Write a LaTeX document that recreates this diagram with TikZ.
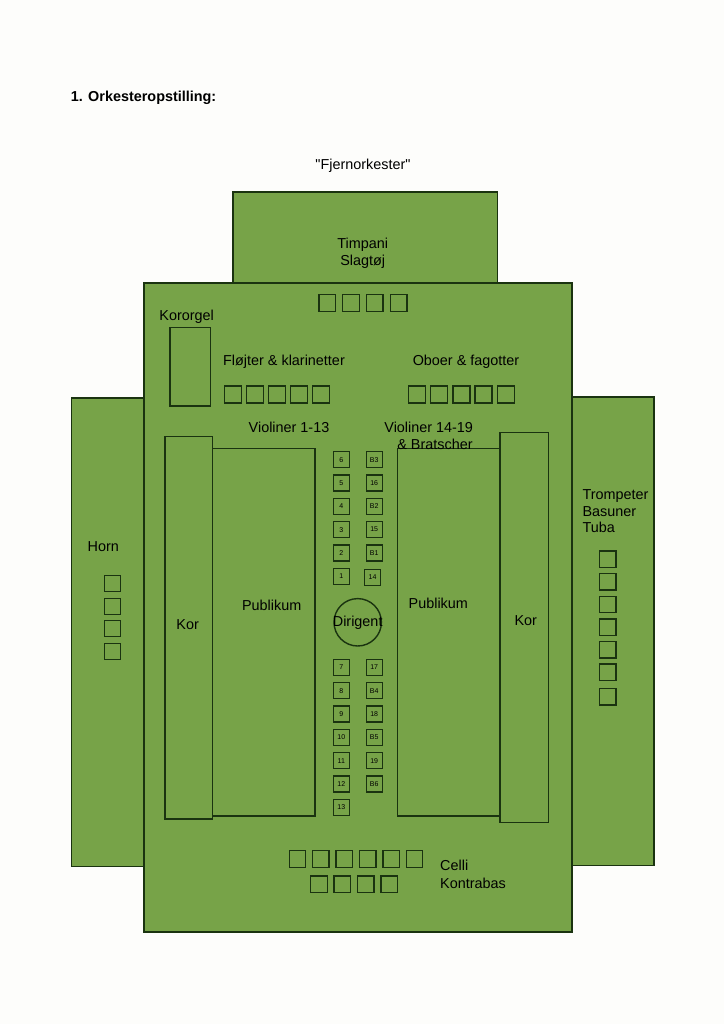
\documentclass[tikz,border=0pt]{standalone}
\usepackage{fontspec}
\setmainfont{Liberation Sans}[Ligatures=TeXOff]
\definecolor{stage}{HTML}{77A348}
\definecolor{edge}{HTML}{1A3310}
\definecolor{paper}{HTML}{FDFDFB}
\begin{document}
\begin{tikzpicture}[x=1pt,y=-1pt,
  zone/.style={fill=stage,draw=edge,line width=1.5pt},
  part/.style={draw=edge,line width=1.5pt},
  seat/.style={draw=edge,line width=1.4pt,minimum size=16.5pt,inner sep=0pt},
  wseat/.style={seat,minimum size=17pt},
  cseat/.style={seat,minimum size=16pt,font=\fontsize{7}{8}\selectfont},
  lbl/.style={inner sep=0pt,anchor=base,font=\fontsize{14.4}{17}\selectfont,text=black},
  lblw/.style={lbl,anchor=base west}]
\useasboundingbox (0,0) rectangle (724,1024);
\fill[paper] (0,0) rectangle (724,1024);
% zones
\draw[zone] (233,192) rectangle (497.5,283);
\draw[zone] (71.5,398) rectangle (144,866.5);
\draw[zone] (572,397) rectangle (654,865.5);
\draw[zone] (144,283) rectangle (572,932);
% inner areas
\draw[part] (170,327.7) rectangle (210.3,406);
\draw[part] (165,436.7) rectangle (212.7,819);
\draw[part] (212.7,448.7) rectangle (315,816);
\draw[part] (397.3,448.7) rectangle (500,816);
\draw[part] (500,432.7) rectangle (548.7,822.7);
% texts
\node[lblw,font=\bfseries\fontsize{14.4}{17}\selectfont] (title) at (70.7,101.7) {1. Orkesteropstilling:};
\node[lbl] (fjern) at (363,169.3) {"Fjernorkester"};
\node[lbl] (timp) at (362.7,248) {Timpani};
\node[lbl] (slag) at (362.7,265) {Slagtøj};
\node[lbl] (kororg) at (186.7,320) {Kororgel};
\node[lbl] (flojt) at (284,365) {Fløjter \& klarinetter};
\node[lbl] (obo) at (466,365) {Oboer \& fagotter};
\node[lbl] (vio1) at (289,432.3) {Violiner 1-13};
\node[lbl] (vio2) at (428.7,432) {Violiner 14-19};
\node[lbl] (brat) at (435,449) {\& Bratscher};
\node[lbl] (horn) at (103.3,551.7) {Horn};
\node[lblw] (tromp) at (582.3,499.3) {Trompeter};
\node[lblw] (basun) at (582.3,516) {Basuner};
\node[lblw] (tuba) at (582.3,532.7) {Tuba};
\node[lbl] (korL) at (187.7,629.3) {Kor};
\node[lbl] (pubL) at (271.7,610) {Publikum};
\node[lbl] (pubR) at (438.3,608.3) {Publikum};
\node[lbl] (korR) at (525.7,625) {Kor};
\node[lblw] (celli) at (440,870) {Celli};
\node[lblw] (kontra) at (440,888.3) {Kontrabas};
% timpani seats
\foreach \x [count=\i] in {327.2,351,374.8,398.6}
  \node[seat] (t\i) at (\x,303) {};
% woodwinds
\foreach \x [count=\i] in {233,255,277,299,321}
  \node[wseat] (f\i) at (\x,394.3) {};
\foreach \x [count=\i] in {417,439.2,461.4,483.6,505.8}
  \node[wseat] (o\i) at (\x,394.3) {};
% horn
\foreach \y [count=\i] in {583.7,606.2,628.7,651.2}
  \node[seat,minimum size=16pt] (h\i) at (112.5,\y) {};
% brass
\foreach \y [count=\i] in {559.3,581.9,604.5,627.1,649.7,672.3,696.6}
  \node[seat] (b\i) at (607.7,\y) {};
% celli / kontrabas
\foreach \x [count=\i] in {297.5,320.9,344.3,367.7,391.1,414.5}
  \node[seat] (c\i) at (\x,859) {};
\foreach \x [count=\i] in {319,342.4,365.8,389.2}
  \node[seat] (k\i) at (\x,884.2) {};
% violins left column
\foreach \y/\t in {459.7/6,483/5,506.3/4,529.6/3,553/2,576.3/1,667.3/7,690.6/8,714/9,737.3/10,760.6/11,784/12,807.3/13}
  \node[cseat] (v\t) at (341.3,\y) {\t};
% right column
\foreach \y/\t in {459.7/B3,483/16,506.3/B2,529.6/15,553/B1,667.3/17,690.6/B4,714/18,737.3/B5,760.6/19,784/B6}
  \node[cseat] (r\t) at (374.2,\y) {\t};
\node[cseat] (r14) at (372.5,577.3) {14};
% conductor
\node[circle,draw=edge,line width=1.4pt,minimum size=47.4pt,inner sep=0pt] (dir) at (357.7,622.3) {};
\node[inner sep=0pt,font=\fontsize{14.4}{17}\selectfont] (dirt) at (dir.center) {Dirigent};
\end{tikzpicture}
\end{document}
